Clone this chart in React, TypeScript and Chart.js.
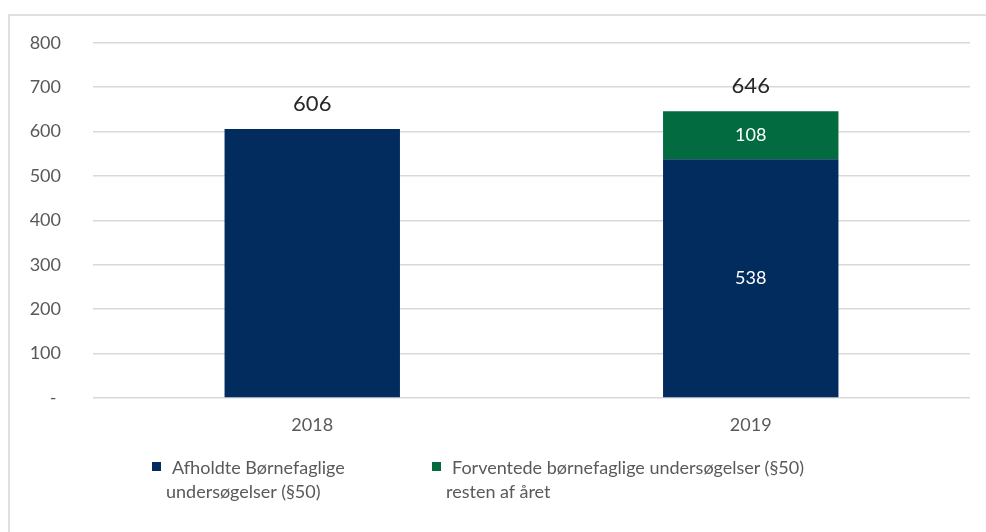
import React, { useEffect, useRef } from "react";
import { Chart, registerables } from "chart.js";

Chart.register(...registerables);

const categories = ["2018", "2019"];
const afholdte = [606, 538];
const forventede = [0, 108];
const totals = [606, 646];
const yTicks = [0, 100, 200, 300, 400, 500, 600, 700, 800];
const seriesNames = ["Afholdte Børnefaglige undersøgelser (§50)", "Forventede børnefaglige undersøgelser (§50) resten af året"];

const NAVY = "#022B5E";
const GREEN = "#036B40";
const FONT = "Lato, 'Open Sans', sans-serif";

const labelPlugin = {
  id: "barLabels",
  afterDatasetsDraw(chart: any) {
    const ctx = chart.ctx;
    ctx.save();
    ctx.textAlign = "center";
    ctx.textBaseline = "middle";
    const n = chart.data.labels.length;
    for (let i = 0; i < n; i++) {
      const segs = chart.data.datasets.filter((d: any) => d.data[i] > 0).length;
      let topY = Infinity;
      let cx = 0;
      chart.data.datasets.forEach((ds: any, di: number) => {
        const meta = chart.getDatasetMeta(di);
        const el = meta.data[i];
        if (!el || !(ds.data[i] > 0)) return;
        cx = el.x;
        topY = Math.min(topY, el.y);
        if (segs > 1) {
          ctx.fillStyle = "#ffffff";
          ctx.font = `18px ${FONT}`;
          ctx.fillText(String(ds.data[i]), el.x, (el.y + el.base) / 2);
        }
      });
      ctx.fillStyle = "#262626";
      ctx.font = `22px ${FONT}`;
      ctx.fillText(String(totals[i]), cx, topY - 25);
    }
    ctx.restore();
  },
};

export default function App() {
  const ref = useRef<HTMLCanvasElement>(null);
  useEffect(() => {
    if (!ref.current) return;
    const chart = new Chart(ref.current, {
      type: "bar",
      data: {
        labels: categories,
        datasets: [
          { label: seriesNames[0], data: afholdte, backgroundColor: NAVY, barPercentage: 0.4, categoryPercentage: 1 },
          { label: seriesNames[1], data: forventede, backgroundColor: GREEN, barPercentage: 0.4, categoryPercentage: 1 },
        ],
      },
      options: {
        responsive: false,
        animation: false,
        events: [],
        layout: { padding: { left: 8, right: 16, top: 36, bottom: 84 } },
        plugins: { legend: { display: false }, tooltip: { enabled: false } },
        scales: {
          x: {
            stacked: true,
            grid: { display: false },
            border: { display: false },
            ticks: { color: "#595959", font: { family: FONT, size: 18 }, padding: 8 },
            afterFit: (s: any) => { s.height = 50; },
          },
          y: {
            stacked: true,
            min: 0,
            max: 800,
            afterBuildTicks: (s: any) => { s.ticks = yTicks.map((v) => ({ value: v })); },
            grid: { color: "#d9d9d9", lineWidth: 1.5, drawTicks: false },
            border: { display: false },
            ticks: {
              color: "#595959",
              font: { family: FONT, size: 18 },
              padding: 32,
              callback: (v: any) => (Number(v) === 0 ? "- " : String(v)),
            },
            afterFit: (s: any) => { s.width = 85; },
          },
        },
      },
      plugins: [labelPlugin],
    });
    return () => chart.destroy();
  }, []);

  const legendText: React.CSSProperties = {
    position: "absolute",
    fontFamily: FONT,
    fontSize: 18,
    color: "#595959",
    whiteSpace: "nowrap",
    lineHeight: "24px",
  };
  const sq = (color: string, left: number): React.CSSProperties => ({
    position: "absolute",
    left,
    top: 462,
    width: 9,
    height: 9,
    background: color,
  });

  return (
    <div style={{ position: "fixed", left: 0, top: 0, width: 986, height: 532, background: "#fff", overflow: "hidden" }}>
      <div style={{ position: "absolute", left: 8, top: 14, right: 0, bottom: 0, borderLeft: "2px solid #e0e0e0", borderTop: "2px solid #e0e0e0" }} />
      <canvas ref={ref} width={986} height={532} style={{ position: "absolute", left: 0, top: 0 }} />
      <div style={sq(NAVY, 152)} />
      <div style={{ ...legendText, left: 172, top: 455 }}>Afholdte Børnefaglige</div>
      <div style={{ ...legendText, left: 166, top: 479 }}>undersøgelser (§50)</div>
      <div style={sq(GREEN, 432)} />
      <div style={{ ...legendText, left: 452, top: 455 }}>Forventede børnefaglige undersøgelser (§50)</div>
      <div style={{ ...legendText, left: 446, top: 479 }}>resten af året</div>
    </div>
  );
}
